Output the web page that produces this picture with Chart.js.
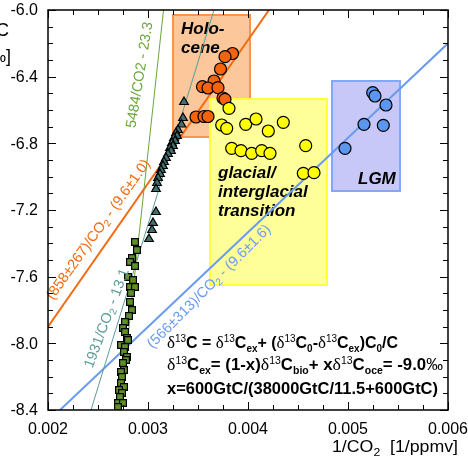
<!DOCTYPE html>
<html><head><meta charset="utf-8">
<script src="https://cdn.jsdelivr.net/npm/chart.js@4.4.0/dist/chart.umd.min.js"></script>
<style>html,body{margin:0;padding:0;background:#fff;overflow:hidden}#wrap{width:468px;height:467px;position:relative}</style>
</head><body><div id="wrap"><canvas id="c" width="468" height="467"></canvas></div>
<script>
// ---------- data ----------
const xTicks = [0.002, 0.003, 0.004, 0.005, 0.006];
const yTicks = [-8.4, -8.0, -7.6, -7.2, -6.8, -6.4, -6.0];
const xMinor = [0.00225, 0.0025, 0.00275, 0.00325, 0.0035, 0.00375, 0.00425, 0.0045, 0.00475, 0.00525, 0.0055, 0.00575];
const yMinor = [-8.3, -8.2, -8.1, -7.9, -7.8, -7.7, -7.5, -7.4, -7.3, -7.1, -7.0, -6.9, -6.7, -6.6, -6.5, -6.3, -6.2, -6.1];

// fit lines (two end points each)
const lineGreen  = [[0.00272, -8.4], [0.003155, -6.0]];
const lineTeal   = [[0.00243, -8.4], [0.00366, -6.0]];
const lineOrange = [[0.002, -7.9], [0.00421, -6.0]];
const lineBlue   = [[0.00212, -8.4], [0.006, -6.2]];

// ice-core data (1/CO2, d13C)
const squares = [
  [0.00287,-7.392],[0.00289,-7.44],[0.00284,-7.488],[0.00282,-7.512],[0.00287,-7.536],[0.0028,-7.602],
  [0.00285,-7.62],[0.00282,-7.662],[0.00287,-7.662],[0.00283,-7.698],[0.00282,-7.752],[0.00284,-7.8],
  [0.00281,-7.836],[0.00277,-7.872],[0.00275,-7.908],[0.00277,-7.932],[0.00279,-7.968],[0.0028,-7.98],
  [0.00273,-8.01],[0.00277,-8.022],[0.00276,-8.052],[0.00279,-8.082],[0.00278,-8.1],[0.00275,-8.118],
  [0.00276,-8.16],[0.00273,-8.172],[0.00274,-8.202],[0.00273,-8.238],[0.00276,-8.262],[0.00271,-8.28],
  [0.00274,-8.298],[0.00272,-8.322],[0.0027,-8.358],[0.00275,-8.358],[0.0027,-8.382]
];
const triangles = [
  [0.00336,-6.552],[0.00335,-6.648],[0.003335,-6.687],[0.0033,-6.72],[0.00328,-6.738],[0.00329,-6.756],
  [0.00326,-6.768],[0.00327,-6.786],[0.00324,-6.798],[0.00325,-6.816],[0.00322,-6.828],[0.00323,-6.846],
  [0.0032,-6.864],[0.00318,-6.888],[0.00316,-6.912],[0.00315,-6.936],[0.00313,-6.96],[0.00312,-6.984],
  [0.0031,-7.008],[0.00309,-7.038],[0.00308,-7.074],[0.00308,-7.212],[0.00305,-7.278],[0.00304,-7.32],
  [0.00301,-7.374]
];
const holocene = [
  [0.003845,-6.261],[0.00377,-6.28],[0.003725,-6.354],[0.00366,-6.426],[0.003545,-6.46],[0.0036,-6.468],
  [0.0037,-6.466],[0.00375,-6.528],[0.00377,-6.536],[0.00348,-6.642],[0.00356,-6.639],[0.0036,-6.639]
];
const transition = [
  [0.00381,-6.59],[0.003737,-6.69],[0.003787,-6.71],[0.003977,-6.686],[0.00408,-6.654],[0.004203,-6.726],
  [0.004353,-6.674],[0.003837,-6.83],[0.00393,-6.844],[0.004037,-6.86],[0.004137,-6.844],[0.00422,-6.86],
  [0.004577,-6.814],[0.004553,-6.98],[0.00466,-6.976]
];
const lgm = [
  [0.005247,-6.496],[0.00527,-6.516],[0.00538,-6.57],[0.00516,-6.686],[0.005353,-6.692],[0.00497,-6.83]
];

// shaded boxes [xmin, xmax, ymin, ymax]
const boxHolocene   = [0.00325, 0.00402, -6.762, -6.03];
const boxTransition = [0.00362, 0.00479, -7.65, -6.534];
const boxLGM        = [0.00484, 0.00552, -7.086, -6.426];

// ---------- drawing helpers ----------
const SANS = '"Liberation Sans", Arial, Helvetica, sans-serif';
const SERIF = '"Liberation Serif", "Times New Roman", serif';
const toXY = a => a.map(p => ({x: p[0], y: p[1]}));

function segWidth(ctx, segs) { let w = 0; for (const s of segs) { ctx.font = s.f; w += ctx.measureText(s.t).width; } return w; }
function drawSegs(ctx, segs, x, y) {
  let cx = x;
  for (const s of segs) { ctx.font = s.f; ctx.fillText(s.t, cx, y + (s.dy || 0)); cx += ctx.measureText(s.t).width; }
}
const FB = t => ({t, f: `bold 16px ${SANS}`});
const FD = () => ({t: 'δ', f: `17px ${SERIF}`});
const FSUP = t => ({t, f: `10px ${SANS}`, dy: -6});
const FSUB = t => ({t, f: `bold 10px ${SANS}`, dy: 4});
const L = (t, sz) => ({t, f: `${sz}px ${SANS}`});
const LS = (t, sz) => ({t, f: `${sz}px ${SANS}`, dy: 4});

const formula1 = [FD(), FSUP('13'), FB('C = '), FD(), FSUP('13'), FB('C'), FSUB('ex'), FB('+ ('), FD(), FSUP('13'), FB('C'), FSUB('0'),
  FB('-'), FD(), FSUP('13'), FB('C'), FSUB('ex'), FB(')C'), FSUB('0'), FB('/C')];
const formula2 = [FD(), FSUP('13'), FB('C'), FSUB('ex'), FB('= (1-x)'), FD(), FSUP('13'), FB('C'), FSUB('bio'), FB('+ x'), FD(), FSUP('13'),
  FB('C'), FSUB('oce'), FB('= -9.0'), {t: '‰', f: `16px ${SANS}`}];
const formula3 = [FB('x=600GtC/(38000GtC/11.5+600GtC)')];

const lineLabels = [
  {c: '#6aa63a', x: 0.00292, y: -6.39, a: -80.7, segs: [L('5484/CO2 - 23.3', 14.5)]},
  {c: '#5c9c98', x: 0.00259, y: -7.85, a: -69.5, segs: [L('1931/CO', 14.5), LS('2', 10), L(' - 13.1', 14.5)]},
  {c: '#f26b12', x: 0.002505, y: -7.318, a: -54.5, segs: [L('(858±267)/CO', 14.5), LS('2', 10), L(' - (9.6±1.0)', 14.5)]},
  {c: '#6a9bf0', x: 0.003612, y: -7.66, a: -45, segs: [L('(566±313)/CO', 14.5), LS('2', 10), L(' - (9.6±1.6)', 14.5)]}
];

const decor = {
  id: 'decor',
  beforeDatasetsDraw(chart) {
    const {ctx, scales: {x, y}} = chart;
    const boxes = [
      [boxHolocene, '#fcc79b', '#f79450'],
      [boxTransition, '#ffff99', '#ffff3a'],
      [boxLGM, '#c8c8f8', '#82a8f6']
    ];
    ctx.save();
    for (const [b, fill, stroke] of boxes) {
      const x0 = x.getPixelForValue(b[0]), x1 = x.getPixelForValue(b[1]);
      const y0 = y.getPixelForValue(b[3]), y1 = y.getPixelForValue(b[2]);
      ctx.fillStyle = fill; ctx.fillRect(x0, y0, x1 - x0, y1 - y0);
      ctx.strokeStyle = stroke; ctx.lineWidth = 2; ctx.strokeRect(x0, y0, x1 - x0, y1 - y0);
    }
    ctx.fillStyle = '#000';
    ctx.textBaseline = 'alphabetic'; ctx.textAlign = 'left';
    ctx.font = `italic bold 17px ${SANS}`;
    const hx = x.getPixelForValue(boxHolocene[0]), hy = y.getPixelForValue(boxHolocene[3]);
    ctx.fillText('Holo-', hx + 8, hy + 19);
    ctx.fillText('cene', hx + 8, hy + 38);
    const tx = x.getPixelForValue(boxTransition[0]), ty = y.getPixelForValue(boxTransition[3]);
    ctx.fillText('glacial/', tx + 8, ty + 79);
    ctx.fillText('interglacial', tx + 8, ty + 98);
    ctx.fillText('transition', tx + 8, ty + 117);
    const lx = x.getPixelForValue(boxLGM[0]), ly = y.getPixelForValue(boxLGM[2]);
    ctx.fillText('LGM', lx + 26, ly - 7);
    ctx.restore();
  },
  afterDatasetsDraw(chart) {
    const {ctx, scales: {x, y}} = chart;
    ctx.save();
    ctx.textBaseline = 'middle'; ctx.textAlign = 'left';
    for (const lb of lineLabels) {
      ctx.fillStyle = lb.c;
      const px = x.getPixelForValue(lb.x), py = y.getPixelForValue(lb.y);
      const w = segWidth(ctx, lb.segs);
      ctx.save(); ctx.translate(px, py); ctx.rotate(lb.a * Math.PI / 180);
      drawSegs(ctx, lb.segs, -w / 2, 0);
      ctx.restore();
    }
    ctx.restore();
  },
  afterDraw(chart) {
    const {ctx, chartArea: ca, scales: {x, y}} = chart;
    ctx.save();
    // frame
    ctx.strokeStyle = '#000'; ctx.lineWidth = 1.5;
    ctx.strokeRect(ca.left, ca.top, ca.right - ca.left, ca.bottom - ca.top);
    ctx.lineWidth = 1;
    const tick = (vals, len) => {
      for (const v of vals) {
        const p = Math.round(x.getPixelForValue(v)) + 0.5;
        ctx.beginPath(); ctx.moveTo(p, ca.bottom); ctx.lineTo(p, ca.bottom - len);
        ctx.moveTo(p, ca.top); ctx.lineTo(p, ca.top + len); ctx.stroke();
      }
    };
    const ytick = (vals, len) => {
      for (const v of vals) {
        const p = Math.round(y.getPixelForValue(v)) + 0.5;
        ctx.beginPath(); ctx.moveTo(ca.left, p); ctx.lineTo(ca.left + len, p);
        ctx.moveTo(ca.right, p); ctx.lineTo(ca.right - len, p); ctx.stroke();
      }
    };
    tick(xTicks, 8); tick(xMinor, 5); ytick(yTicks, 8); ytick(yMinor, 5);
    // tick labels
    ctx.fillStyle = '#000';
    ctx.font = `16px ${SANS}`;
    ctx.textAlign = 'right'; ctx.textBaseline = 'middle';
    for (const v of yTicks) ctx.fillText(v.toFixed(1), ca.left - 10, y.getPixelForValue(v) + 1);
    ctx.textAlign = 'center'; ctx.textBaseline = 'alphabetic';
    for (const v of xTicks) ctx.fillText(v.toFixed(3), x.getPixelForValue(v), ca.bottom + 24);
    // formula text
    ctx.textAlign = 'left';
    const fl = [[formula1, 348, 398], [formula2, 370, 443], [formula3, 394, 438]];
    const fx = 167;
    for (const [segs, base, right] of fl) {
      const w = segWidth(ctx, segs);
      ctx.save(); ctx.translate(fx, base); ctx.scale((right - fx) / w, 1);
      drawSegs(ctx, segs, 0, 0); ctx.restore();
    }
    // x axis title
    const xt = [L('1/CO', 16), LS('2', 11), L('  [1/ppmv]', 16)];
    const xw = segWidth(ctx, xt);
    ctx.save(); ctx.translate(332, 452); ctx.scale(126 / xw, 1); drawSegs(ctx, xt, 0, 0); ctx.restore();
    // y axis title (mostly outside the canvas)
    ctx.textAlign = 'right'; ctx.textBaseline = 'alphabetic';
    ctx.font = `18px ${SANS}`;
    ctx.fillText('δ¹³C', 9, 36);
    ctx.fillText('[‰]', 11, 62);
    ctx.restore();
  }
};

const pt = (data, style, r, fill, order) => ({
  type: 'scatter', data: toXY(data), pointStyle: style, pointRadius: r, pointHoverRadius: r,
  backgroundColor: fill, borderColor: '#000', borderWidth: 1.2, order
});
const ln = (data, color, w) => ({
  type: 'line', data: toXY(data), borderColor: color, borderWidth: w, pointRadius: 0,
  showLine: true, fill: false, tension: 0, order: 10
});

new Chart(document.getElementById('c'), {
  type: 'scatter',
  data: {
    datasets: [
      ln(lineGreen, '#6aa63a', 1),
      ln(lineTeal, '#5c9c98', 1),
      ln(lineOrange, '#f26b12', 2),
      ln(lineBlue, '#6a9bf0', 2),
      pt(squares, 'rect', 4.8, '#5e8f2a', 5),
      pt(triangles, 'triangle', 5, '#426f70', 4),
      pt(holocene, 'circle', 6, '#f5640c', 3),
      pt(transition, 'circle', 6, '#ffff00', 2),
      pt(lgm, 'circle', 6, '#5b96f0', 1)
    ]
  },
  options: {
    responsive: false, animation: false, events: [],
    layout: {padding: {left: 0, right: 20, top: 10, bottom: 0}},
    plugins: {legend: {display: false}, tooltip: {enabled: false}},
    scales: {
      x: {
        type: 'linear', min: 0.002, max: 0.006,
        grid: {display: false, drawTicks: false}, border: {display: false},
        afterBuildTicks: s => { s.ticks = xTicks.map(v => ({value: v})); },
        afterFit: s => { s.height = 57; },
        ticks: {display: false}
      },
      y: {
        type: 'linear', min: -8.4, max: -6.0,
        grid: {display: false, drawTicks: false}, border: {display: false},
        afterBuildTicks: s => { s.ticks = yTicks.map(v => ({value: v})); },
        afterFit: s => { s.width = 48; },
        ticks: {display: false}
      }
    }
  },
  plugins: [decor]
});
</script></body></html>
